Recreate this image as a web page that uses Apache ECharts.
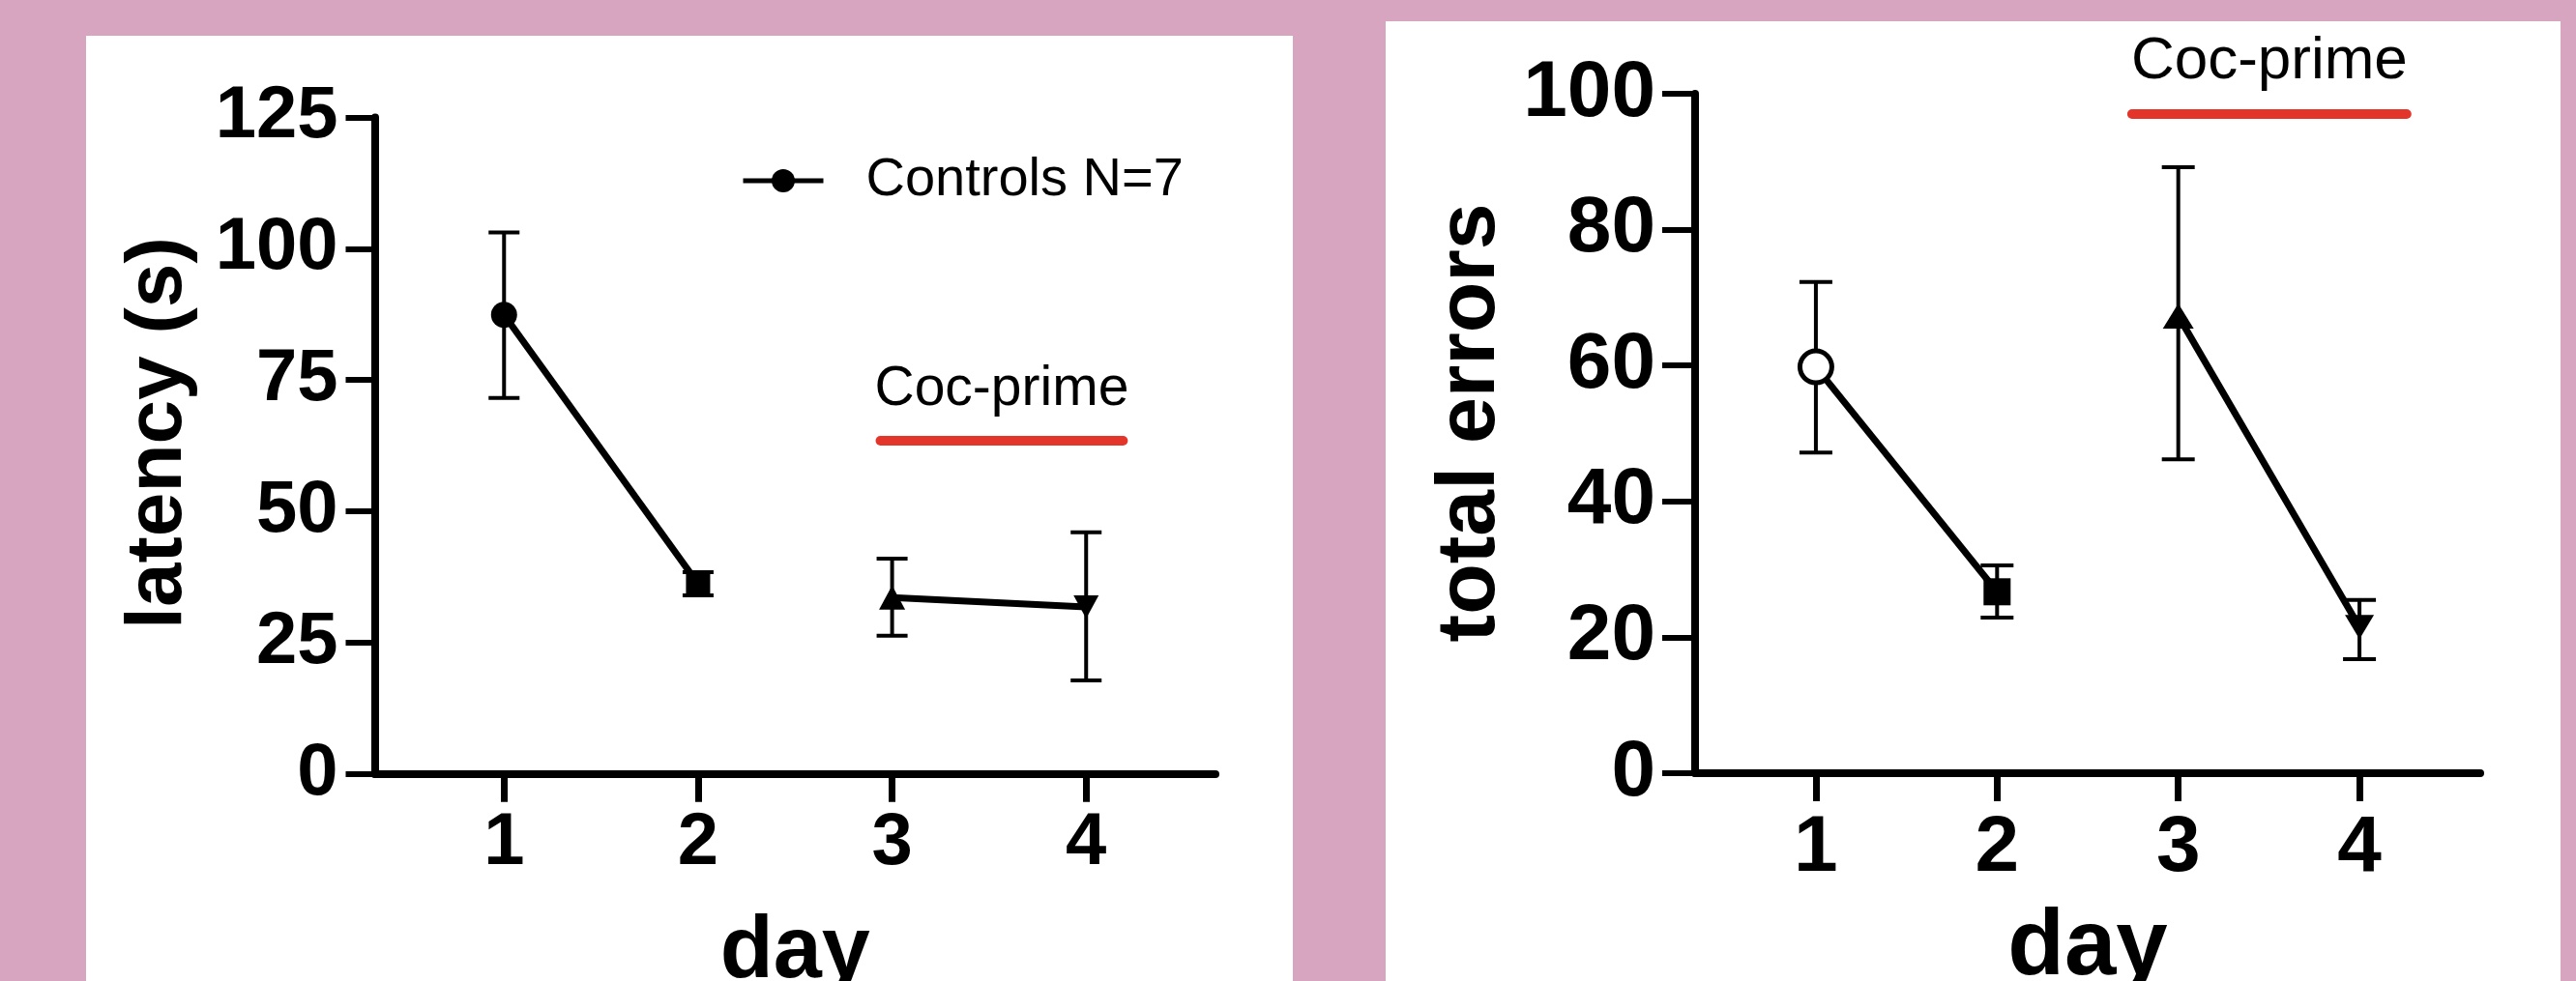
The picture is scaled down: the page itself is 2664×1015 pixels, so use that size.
<!DOCTYPE html>
<html>
<head>
<meta charset="utf-8">
<title>latency / total errors</title>
<script src="https://cdn.jsdelivr.net/npm/echarts@6/dist/echarts.min.js"></script>
<style>
  html, body { margin: 0; padding: 0; width: 2664px; height: 1015px; overflow: hidden; background: #d8a5c1; }
  .panel { position: absolute; background: #fff; }
  #latency { left: 89px; top: 37px; width: 1248px; height: 1078px; }
  #errors { left: 1433px; top: 22px; width: 1215px; height: 1093px; }
</style>
</head>
<body>
<div id="latency" class="panel"></div>
<div id="errors" class="panel"></div>
<script>
// values (mean and error bar ends)
const days = [1, 2, 3, 4];
const latencyMean = [87.4, 36.2, 33.6, 31.8];
const latencyLow = [71.6, 34.0, 26.3, 17.8];
const latencyHigh = [103.1, 38.4, 41.0, 46.0];
const errorsMean = [59.8, 26.7, 67.3, 21.5];
const errorsLow = [47.2, 22.9, 46.2, 16.8];
const errorsHigh = [72.3, 30.6, 89.2, 25.5];
// "Coc-prime" bar: day from, day to, y level
const cocLatency = [2.94, 4.19, 63.4];
const cocErrors = [2.745, 4.26, 97.1];

const FONT = "'Liberation Sans', Arial, Helvetica, sans-serif";
const BLACK = "#000";

function buildOption(cfg) {
  const points = days.map((d, i) => Object.assign({ value: [d, cfg.mean[i]] }, cfg.markers[i]));
  const segment = (from, to, extra) => Object.assign({
    type: "line",
    name: "Controls N=7",
    data: points.slice(from, to),
    symbol: "circle",
    symbolSize: 24,
    lineStyle: { color: BLACK, width: 7 },
    itemStyle: { color: BLACK, borderWidth: 0 },
    emphasis: { disabled: true },
    z: 3
  }, extra);

  return {
    animation: false,
    legend: {
      show: cfg.legend,
      data: ["Controls N=7"],
      left: 672, top: 117,
      itemWidth: 83, itemHeight: 30,
      selectedMode: false,
      lineStyle: { width: 5 },
      textStyle: { fontSize: 56, fontFamily: FONT, color: BLACK, padding: [0, 0, 0, 39] }
    },
    grid: Object.assign({ outerBoundsMode: "none", containLabel: false }, cfg.grid),
    xAxis: {
      type: "value",
      min: 1 / 3, max: 14 / 3,
      name: "day", nameLocation: "middle", nameGap: cfg.xNameGap,
      nameTextStyle: { fontSize: cfg.xNameFont, fontWeight: "bold", fontFamily: FONT, color: BLACK },
      axisLine: { onZero: false, lineStyle: { color: BLACK, width: 8 } },
      axisTick: { show: true, length: 29, customValues: days, lineStyle: { color: BLACK, width: 7 } },
      axisLabel: { customValues: days, fontSize: cfg.xLabelFont, fontWeight: "bold", fontFamily: FONT,
        color: BLACK, margin: cfg.xLabelMargin },
      splitLine: { show: false }
    },
    yAxis: {
      type: "value",
      min: 0, max: cfg.yMax, interval: cfg.yStep,
      name: cfg.yName, nameLocation: "middle", nameGap: cfg.yNameGap,
      nameTextStyle: { fontSize: cfg.yNameFont, fontWeight: "bold", fontFamily: FONT, color: BLACK,
        padding: [0, 0, 0, cfg.yNamePad] },
      axisLine: { show: true, onZero: false, lineStyle: { color: BLACK, width: 8 } },
      axisTick: { show: true, length: cfg.yTickLen, lineStyle: { color: BLACK, width: 6 } },
      axisLabel: { fontSize: cfg.yLabelFont, fontWeight: "bold", fontFamily: FONT, color: BLACK,
        margin: cfg.yLabelMargin },
      splitLine: { show: false }
    },
    series: [
      {
        type: "custom",
        name: "sem",
        data: days.map((d, i) => [d, cfg.low[i], cfg.high[i]]),
        encode: { x: 0, y: [1, 2] },
        z: 2,
        silent: true,
        renderItem(params, api) {
          const top = api.coord([api.value(0), api.value(2)]);
          const bottom = api.coord([api.value(0), api.value(1)]);
          const hw = cfg.cap;
          const style = { stroke: BLACK, lineWidth: 4 };
          return {
            type: "group",
            children: [
              { type: "line", shape: { x1: top[0], y1: top[1], x2: bottom[0], y2: bottom[1] }, style },
              { type: "line", shape: { x1: top[0] - hw, y1: top[1], x2: top[0] + hw, y2: top[1] }, style },
              { type: "line", shape: { x1: bottom[0] - hw, y1: bottom[1], x2: bottom[0] + hw, y2: bottom[1] }, style }
            ]
          };
        }
      },
      segment(0, 2),
      segment(2, 4, {
        clip: false,
        markLine: {
          silent: true,
          symbol: "none",
          animation: false,
          lineStyle: { color: "#e4352a", width: 10, type: "solid", cap: "round" },
          label: { show: true, position: "middle", formatter: "Coc-prime", color: BLACK,
            fontSize: cfg.cocFont, fontFamily: FONT, distance: cfg.cocDist },
          emphasis: { disabled: true },
          data: [[{ coord: [cfg.coc[0], cfg.coc[2]] }, { coord: [cfg.coc[1], cfg.coc[2]] }]]
        }
      })
    ]
  };
}

const latencyChart = echarts.init(document.getElementById("latency"));
latencyChart.setOption(buildOption({
  mean: latencyMean, low: latencyLow, high: latencyHigh, coc: cocLatency,
  markers: [
    { symbol: "circle", symbolSize: 27 },
    { symbol: "rect", symbolSize: 25 },
    { symbol: "triangle", symbolSize: [27, 25] },
    { symbol: "triangle", symbolSize: [26, 24], symbolRotate: 180 }
  ],
  legend: true,
  grid: { left: 298.5, top: 84.5, width: 869.5, height: 679.2 },
  yMax: 125, yStep: 25, yName: "latency (s)", yNameFont: 82, yNameGap: 182, yNamePad: 26,
  yLabelFont: 76, yLabelMargin: 38, yTickLen: 30,
  xLabelFont: 76, xLabelMargin: 34, xNameFont: 90, xNameGap: 140,
  cap: 16, cocFont: 57, cocDist: 24
}));

const errorsChart = echarts.init(document.getElementById("errors"));
errorsChart.setOption(buildOption({
  mean: errorsMean, low: errorsLow, high: errorsHigh, coc: cocErrors,
  markers: [
    { symbol: "circle", symbolSize: 33, itemStyle: { color: "#fff", borderColor: BLACK, borderWidth: 5 } },
    { symbol: "rect", symbolSize: 28 },
    { symbol: "triangle", symbolSize: [32, 26] },
    { symbol: "triangle", symbolSize: [30, 25], symbolRotate: 180 }
  ],
  legend: false,
  grid: { left: 320, top: 75, width: 812, height: 703 },
  yMax: 100, yStep: 20, yName: "total errors", yNameFont: 86, yNameGap: 187, yNamePad: 22,
  yLabelFont: 82, yLabelMargin: 41, yTickLen: 34,
  xLabelFont: 82, xLabelMargin: 37, xNameFont: 96, xNameGap: 134,
  cap: 17, cocFont: 62, cocDist: 22
}));
</script>
</body>
</html>
